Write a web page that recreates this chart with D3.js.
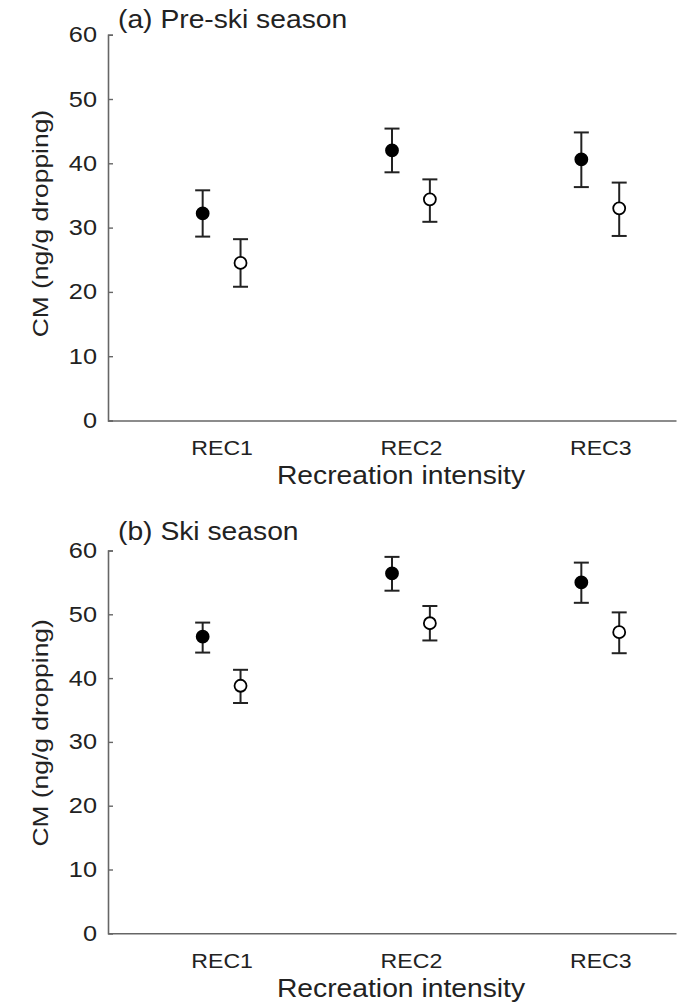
<!DOCTYPE html>
<html>
<head>
<meta charset="utf-8">
<script src="https://cdn.jsdelivr.net/npm/d3@7"></script>
<style>
  html, body { margin: 0; padding: 0; background: #fff; }
  svg { display: block; }
  text { font-family: Arial, "Liberation Sans", sans-serif; fill: #222; }
</style>
</head>
<body>
<svg id="chart" width="682" height="1003"></svg>
<script>
// ---- data ----
const categories = ["REC1", "REC2", "REC3"];
const yTicks = [0, 10, 20, 30, 40, 50, 60];

const preFilledMean = [32.2, 42.0, 40.6];
const preFilledHigh = [35.8, 45.4, 44.8];
const preFilledLow  = [28.6, 38.6, 36.3];
const preOpenMean   = [24.5, 34.4, 33.0];
const preOpenHigh   = [28.2, 37.5, 37.0];
const preOpenLow    = [20.8, 30.9, 28.7];

const skiFilledMean = [46.5, 56.4, 55.0];
const skiFilledHigh = [48.7, 59.0, 58.1];
const skiFilledLow  = [44.0, 53.7, 51.8];
const skiOpenMean   = [38.8, 48.6, 47.2];
const skiOpenHigh   = [41.3, 51.3, 50.3];
const skiOpenLow    = [36.1, 45.9, 43.9];

const panelTitles = ["(a) Pre-ski season", "(b) Ski season"];
const xTitle = "Recreation intensity";
const yTitle = "CM (ng/g dropping)";

// ---- layout ----
const svg = d3.select("#chart");
const axisColor = "#666";
const xLeft = 108, xRight = 676;

// widen glyphs horizontally like the reference typeface
function stretch(sel, factor) {
  sel.each(function () {
    const w = this.getComputedTextLength();
    d3.select(this).attr("textLength", w * factor).attr("lengthAdjust", "spacingAndGlyphs");
  });
}

const panels = [
  { title: panelTitles[0], y0: 420.5, y60: 34.7, titleDy: -6.5, yTitleDy: -4, xTitleDy: 63,
    filled: { mean: preFilledMean, hi: preFilledHigh, lo: preFilledLow },
    open:   { mean: preOpenMean, hi: preOpenHigh, lo: preOpenLow } },
  { title: panelTitles[1], y0: 933.3, y60: 550.5, titleDy: -11, yTitleDy: -9, xTitleDy: 63.5,
    filled: { mean: skiFilledMean, hi: skiFilledHigh, lo: skiFilledLow },
    open:   { mean: skiOpenMean, hi: skiOpenHigh, lo: skiOpenLow } }
];

const x = d3.scaleLinear().domain([0.4, 3.4]).range([xLeft, xRight]);
const offset = 0.1;

panels.forEach(p => {
  const y = d3.scaleLinear().domain([0, 60]).range([p.y0, p.y60]);
  const g = svg.append("g");

  // y axis
  const yAxis = d3.axisLeft(y).tickValues(yTicks).tickSize(-5).tickPadding(11);
  const ya = g.append("g").attr("transform", `translate(${xLeft},0)`).call(yAxis);
  ya.select(".domain").attr("stroke", axisColor).attr("stroke-width", 1.6);
  ya.selectAll(".tick line").attr("stroke", axisColor).attr("stroke-width", 1.4);
  ya.selectAll(".tick text").style("font-size", "22px").attr("fill", "#222")
    .call(stretch, 1.15);

  // x axis
  const xAxis = d3.axisBottom(x).tickValues([1, 2, 3])
    .tickFormat((d, i) => categories[i]).tickSize(0).tickPadding(20);
  const xa = g.append("g").attr("transform", `translate(0,${p.y0})`).call(xAxis);
  xa.select(".domain").attr("stroke", axisColor).attr("stroke-width", 1.6);
  xa.selectAll(".tick text").style("font-size", "21px").attr("fill", "#222")
    .call(stretch, 1.1);

  // titles
  g.append("text").attr("x", 118).attr("y", p.y60 + p.titleDy)
    .style("font-size", "25px").text(p.title).call(stretch, 1.13);
  g.append("text").attr("x", (xLeft + xRight) / 2 + 9).attr("y", p.y0 + p.xTitleDy)
    .attr("text-anchor", "middle").style("font-size", "25px").text(xTitle)
    .call(stretch, 1.13);
  g.append("text")
    .attr("transform", `translate(48,${(p.y0 + p.y60) / 2 + p.yTitleDy}) rotate(-90)`)
    .attr("text-anchor", "middle").style("font-size", "22px").text(yTitle)
    .call(stretch, 1.2);

  // series
  const series = [
    { d: p.filled, dx: -offset, fill: "#000" },
    { d: p.open, dx: offset, fill: "#fff" }
  ];
  series.forEach(s => {
    const idx = d3.range(categories.length);
    const cx = i => x(i + 1 + s.dx);
    g.selectAll(null).data(idx).enter().append("line")
      .attr("x1", cx).attr("x2", cx)
      .attr("y1", i => y(s.d.hi[i])).attr("y2", i => y(s.d.lo[i]))
      .attr("stroke", "#222").attr("stroke-width", 2);
    ["hi", "lo"].forEach(k => {
      g.selectAll(null).data(idx).enter().append("line")
        .attr("x1", i => cx(i) - 7.5).attr("x2", i => cx(i) + 7.5)
        .attr("y1", i => y(s.d[k][i])).attr("y2", i => y(s.d[k][i]))
        .attr("stroke", "#222").attr("stroke-width", 2);
    });
    g.selectAll(null).data(idx).enter().append("circle")
      .attr("cx", cx).attr("cy", i => y(s.d.mean[i]))
      .attr("r", 6).attr("fill", s.fill)
      .attr("stroke", "#000").attr("stroke-width", 1.8);
  });
});
</script>
</body>
</html>
